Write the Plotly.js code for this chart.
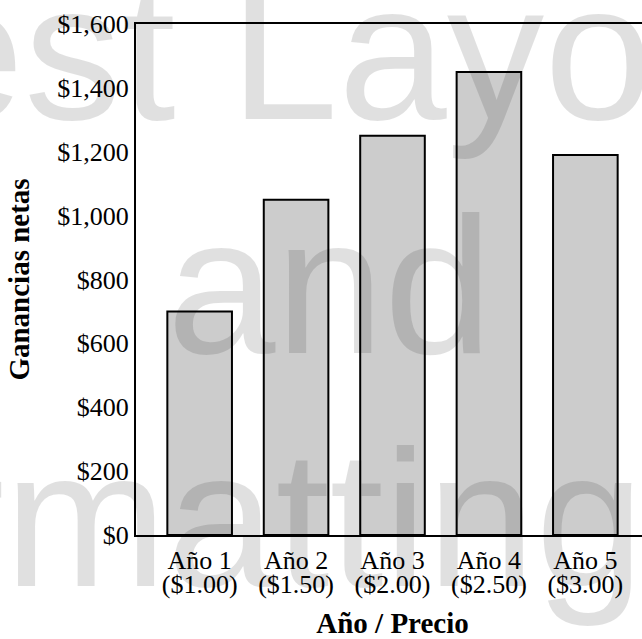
<!DOCTYPE html>
<html>
<head>
<meta charset="utf-8">
<script src="https://cdn.plot.ly/plotly-3.0.1.min.js"></script>
<style>
html, body { margin: 0; padding: 0; overflow: hidden; background: #fff; }
#chart { width: 652px; height: 639px; }
</style>
</head>
<body>
<div id="chart"></div>
<script>
// Data
const years = ["Año 1", "Año 2", "Año 3", "Año 4", "Año 5"];
const prices = ["($1.00)", "($1.50)", "($2.00)", "($2.50)", "($3.00)"];
const netProfit = [700, 1050, 1250, 1450, 1190];
const yTickVals = [0, 200, 400, 600, 800, 1000, 1200, 1400, 1600];
const yTickText = ["$0", "$200", "$400", "$600", "$800", "$1,000", "$1,200", "$1,400", "$1,600"];
const watermarkLines = ["Test Layout", "and", "Formatting"];

const serif = "Liberation Serif, Times New Roman, Times, serif";
const sans = "Liberation Sans, Arial, Helvetica, sans-serif";

const traces = [
  {
    type: "bar",
    x: years,
    y: netProfit,
    marker: { color: "#cccccc", line: { color: "#000000", width: 2 } },
    hoverinfo: "skip",
    xaxis: "x",
    yaxis: "y"
  },
  {
    type: "scatter",
    mode: "markers",
    x: years,
    y: netProfit,
    marker: { opacity: 0 },
    hoverinfo: "skip",
    showlegend: false,
    xaxis: "x2",
    yaxis: "y"
  }
];

const wmX = [0.352, 0.378, 0.082];
const wmY = [0.947, 0.489, 0.033];
const annotations = watermarkLines.map((t, i) => ({
  text: t,
  xref: "paper", yref: "paper",
  x: wmX[i], y: wmY[i],
  xanchor: "center", yanchor: "middle",
  showarrow: false,
  font: { family: sans, size: 195, color: "rgba(0,0,0,0.12)" }
}));

const layout = {
  width: 652,
  height: 639,
  margin: { l: 136, r: 3, t: 24, b: 104, pad: 0 },
  paper_bgcolor: "#ffffff",
  plot_bgcolor: "#ffffff",
  showlegend: false,
  bargap: 0.33,
  font: { family: serif, color: "#000000", size: 26 },
  xaxis: {
    type: "category",
    categoryarray: years,
    range: [-0.66, 4.66],
    showline: true, mirror: true, linecolor: "#000000", linewidth: 2,
    showgrid: false, zeroline: false, ticks: "",
    tickfont: { family: serif, size: 26, color: "#000000" },
    ticklabelstandoff: 1,
    fixedrange: true
  },
  xaxis2: {
    type: "category",
    overlaying: "x",
    anchor: "y",
    side: "bottom",
    categoryarray: years,
    range: [-0.66, 4.66],
    tickmode: "array",
    tickvals: years,
    ticktext: prices,
    showline: false, showgrid: false, zeroline: false, ticks: "",
    tickfont: { family: serif, size: 26, color: "#000000" },
    ticklabelstandoff: 31,
    title: { text: "<b>Año / Precio</b>", font: { family: serif, size: 29, color: "#000000" }, standoff: 20 },
    fixedrange: true
  },
  yaxis: {
    range: [0, 1600],
    tickmode: "array",
    tickvals: yTickVals,
    ticktext: yTickText,
    showline: true, mirror: true, linecolor: "#000000", linewidth: 2,
    showgrid: false, zeroline: false, ticks: "",
    tickfont: { family: serif, size: 26, color: "#000000" },
    ticklabelstandoff: 0,
    title: { text: "<b>Ganancias netas</b>", font: { family: serif, size: 29, color: "#000000" }, standoff: 19 },
    fixedrange: true
  },
  annotations: annotations
};

Plotly.newPlot("chart", traces, layout, { displayModeBar: false, staticPlot: true });
</script>
</body>
</html>
